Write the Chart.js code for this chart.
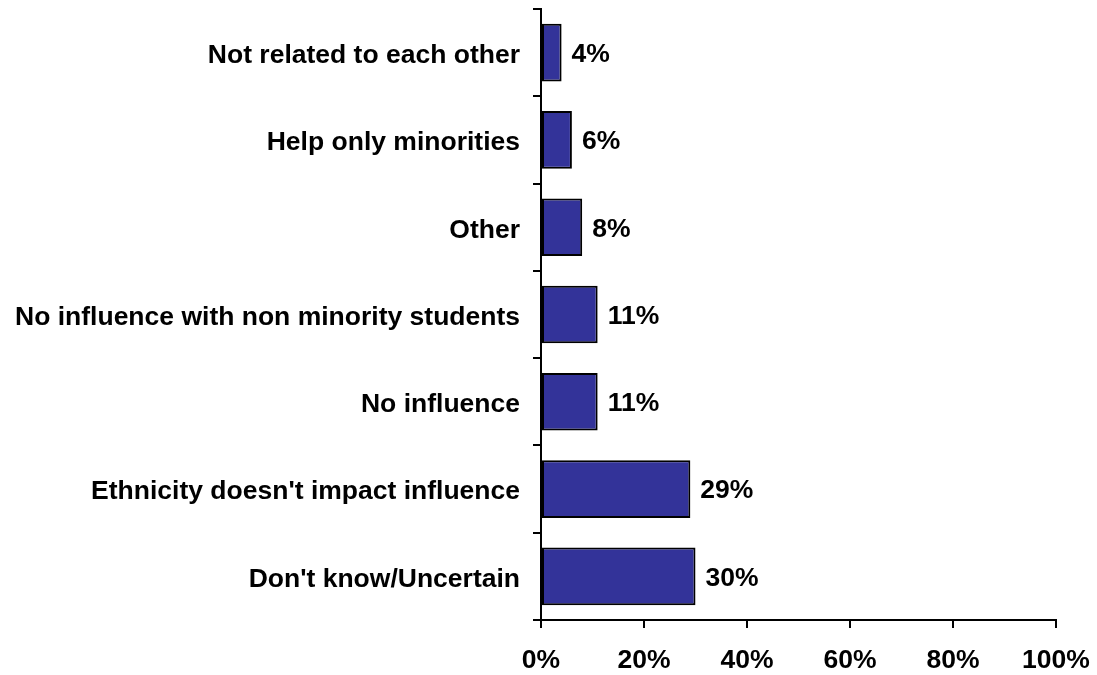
<!DOCTYPE html>
<html>
<head>
<meta charset="utf-8">
<script src="https://cdn.jsdelivr.net/npm/chart.js@4"></script>
<style>
  html, body { margin: 0; padding: 0; background: #fff; }
  #wrap { width: 1097px; height: 675px; position: relative; }
</style>
</head>
<body>
<div id="wrap"><canvas id="chart"></canvas></div>
<script>
// Categorias e valores (%)
const categories = [
    'Not related to each other',
    'Help only minorities',
    'Other',
    'No influence with non minority students',
    'No influence',
    "Ethnicity doesn't impact influence",
    "Don't know/Uncertain"
];
const percentages = [4, 6, 8, 11, 11, 29, 30];
const xTicks = [0, 20, 40, 60, 80, 100];

const FONT = '"Liberation Sans", Arial, sans-serif';
const FONT_SIZE = 26.5;

// Rótulos de valor à direita de cada barra
const valueLabels = {
    id: 'valueLabels',
    afterDatasetsDraw(chart) {
        const ctx = chart.ctx;
        const meta = chart.getDatasetMeta(0);
        ctx.save();
        ctx.font = 'bold ' + FONT_SIZE + 'px ' + FONT;
        ctx.fillStyle = '#000';
        ctx.textAlign = 'left';
        ctx.textBaseline = 'middle';
        meta.data.forEach((bar, i) => {
            ctx.fillText(percentages[i] + '%', bar.x + 10, bar.y + 2);
        });
        ctx.restore();
    }
};

new Chart(document.getElementById('chart'), {
    type: 'bar',
    data: {
        labels: categories,
        datasets: [{
            data: percentages,
            backgroundColor: '#333399',
            borderColor: '#000',
            borderWidth: 2,
            borderSkipped: false,
            barPercentage: 0.66,
            categoryPercentage: 1
        }]
    },
    options: {
        indexAxis: 'y',
        responsive: true,
        maintainAspectRatio: false,
        animation: false,
        layout: { padding: { top: 9, right: 41, left: 0, bottom: 0 } },
        plugins: {
            legend: { display: false },
            tooltip: { enabled: false }
        },
        scales: {
            x: {
                min: 0,
                max: 100,
                afterBuildTicks(scale) {
                    scale.ticks = xTicks.map(v => ({ value: v }));
                },
                afterFit(scale) {
                    scale.height = 55;
                    scale.paddingLeft = 0;
                    scale.paddingRight = 0;
                },
                border: { color: '#000', width: 2 },
                grid: { drawOnChartArea: false, drawTicks: true, tickLength: 8, color: '#000', lineWidth: 2 },
                ticks: {
                    color: '#000',
                    padding: 17,
                    font: { family: FONT, size: FONT_SIZE, weight: 'bold' },
                    callback: v => v + '%'
                }
            },
            y: {
                afterFit(scale) {
                    scale.width = 541;
                    scale.paddingTop = 0;
                    scale.paddingBottom = 0;
                },
                border: { color: '#000', width: 2 },
                grid: { drawOnChartArea: false, drawTicks: true, tickLength: 8, color: '#000', lineWidth: 2, offset: true },
                ticks: {
                    color: '#000',
                    padding: 13,
                    labelOffset: 3,
                    font: { family: FONT, size: FONT_SIZE, weight: 'bold' }
                }
            }
        }
    },
    plugins: [valueLabels]
});
</script>
</body>
</html>
